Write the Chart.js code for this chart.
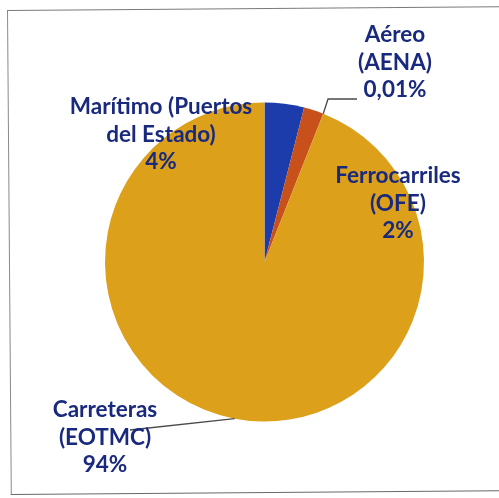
<!DOCTYPE html>
<html>
<head>
<meta charset="utf-8">
<script src="https://cdn.jsdelivr.net/npm/chart.js@4.4.1/dist/chart.umd.min.js"></script>
<style>
  html, body { margin: 0; padding: 0; background: #fff; }
  #wrap { position: relative; width: 499px; height: 498px; overflow: hidden; }
  #frame {
    position: absolute; left: 7px; top: 10px; width: 520px; height: 483px;
    border-left: 1px solid #8a8a8a; border-top: 1px solid #7a7a7a; border-bottom: 1px solid #6a6a6a;
    transform: rotate(-0.45deg); transform-origin: 0 0;
  }
  #pie { position: absolute; left: 0; top: 0; }
</style>
</head>
<body>
<div id="wrap">
  <div id="frame"></div>
  <canvas id="pie" width="499" height="498"></canvas>
</div>
<script>
// reparto modal (%)
const categorias = ['Marítimo (Puertos del Estado)', 'Ferrocarriles (OFE)', 'Aéreo (AENA)', 'Carreteras (EOTMC)'];
const valores = [4, 2, 0.01, 94];
const etiquetas = [
  ['Marítimo (Puertos', 'del Estado)', '4%'],
  ['Ferrocarriles', '(OFE)', '2%'],
  ['Aéreo', '(AENA)', '0,01%'],
  ['Carreteras', '(EOTMC)', '94%']
];
const colores = ['#1d3cab', '#c8511b', '#c8511b', '#dca01a'];

// donde va cada rotulo (centro de la primera linea) y la linea guia si la hay
const rotulos = [
  { x: 161, y: 107, guia: null },
  { x: 398, y: 176, guia: null },
  { x: 395, y: 35, guia: [[328, 99], [357, 99]] },
  { x: 105, y: 410, guia: [[130, 430]] }
];

const textoPlugin = {
  id: 'textoPlugin',
  afterDatasetsDraw(chart) {
    const ctx = chart.ctx;
    const arcs = chart.getDatasetMeta(0).data;
    ctx.save();
    // lineas guia desde el punto medio del arco
    ctx.strokeStyle = '#4a4a4a';
    ctx.lineWidth = 1.3;
    rotulos.forEach(function (r, i) {
      if (!r.guia) return;
      const a = arcs[i].getProps(['x', 'y', 'startAngle', 'endAngle', 'outerRadius'], true);
      const mid = (a.startAngle + a.endAngle) / 2;
      ctx.beginPath();
      ctx.moveTo(a.x + Math.cos(mid) * a.outerRadius, a.y + Math.sin(mid) * a.outerRadius);
      r.guia.forEach(function (p) { ctx.lineTo(p[0], p[1]); });
      ctx.stroke();
    });
    ctx.fillStyle = '#19297e';
    ctx.font = 'bold 22.5px Lato';
    ctx.textAlign = 'center';
    ctx.textBaseline = 'middle';
    rotulos.forEach(function (r, i) {
      etiquetas[i].forEach(function (linea, k) {
        ctx.fillText(linea, r.x, r.y + k * 27.5);
      });
    });
    ctx.restore();
  }
};

new Chart(document.getElementById('pie'), {
  type: 'pie',
  data: {
    labels: categorias,
    datasets: [{
      data: valores,
      backgroundColor: colores,
      borderWidth: 0
    }]
  },
  options: {
    responsive: false,
    animation: false,
    layout: { padding: { left: 105, right: 75, top: 102, bottom: 76 } },
    plugins: {
      legend: { display: false },
      tooltip: { enabled: false }
    }
  },
  plugins: [textoPlugin]
});
</script>
</body>
</html>
